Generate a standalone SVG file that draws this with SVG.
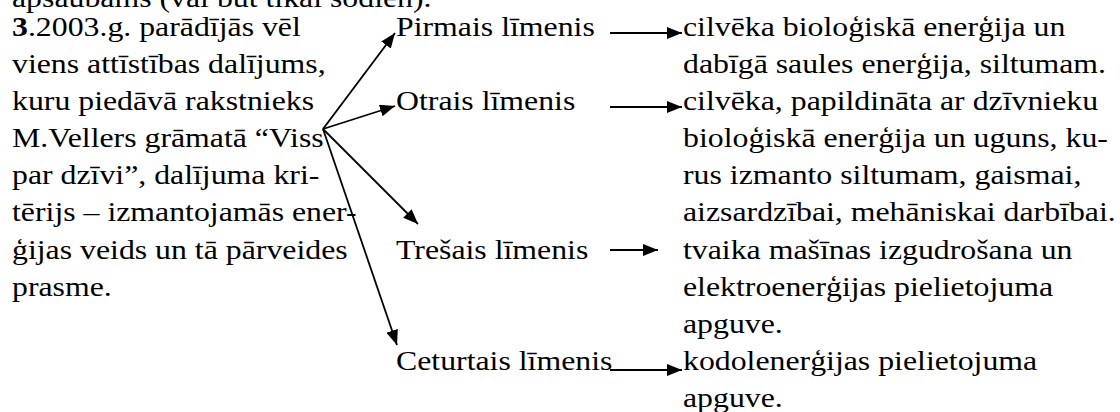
<svg xmlns="http://www.w3.org/2000/svg" width="1120" height="412" viewBox="0 0 1120 412">
  <style>
    text { font-family: "Liberation Serif", "Times New Roman", serif; font-size: 27px; fill: #000; }
    .wire { stroke: #000; stroke-width: 1.8; fill: none; marker-end: url(#head); }
  </style>
  <defs>
    <marker id="head" viewBox="0 0 15 12" markerWidth="15" markerHeight="12" markerUnits="userSpaceOnUse" refX="15" refY="6" orient="auto">
      <path d="M0,0 L15,6 L0,12 z" fill="#000"/>
    </marker>
  </defs>
  <rect width="1120" height="412" fill="#fff"/>

  <!-- tail of the preceding paragraph -->
  <g id="prev-line" transform="translate(12 0) scale(1.178 1)">
    <text x="0" y="7">apšaubāms (vai būt tikai šodien).</text>
  </g>

  <!-- source paragraph -->
  <g id="source" transform="translate(12 0) scale(1.178 1)">
    <text x="0" y="36"><tspan font-weight="bold">3</tspan>.2003.g. parādījās vēl</text>
    <text x="0" y="73.1">viens attīstības dalījums,</text>
    <text x="0" y="110.2">kuru piedāvā rakstnieks</text>
    <text x="0" y="147.3">M.Vellers grāmatā “Viss</text>
    <text x="0" y="184.4">par dzīvi”, dalījuma kri-</text>
    <text x="0" y="221.5">tērijs – izmantojamās ener-</text>
    <text x="0" y="258.6">ģijas veids un tā pārveides</text>
    <text x="0" y="295.7">prasme.</text>
  </g>

  <!-- levels -->
  <g id="level-1" transform="translate(396 0) scale(1.178 1)">
    <text x="0" y="36">Pirmais līmenis</text>
  </g>
  <g id="level-2" transform="translate(396 0) scale(1.178 1)">
    <text x="0" y="110.2">Otrais līmenis</text>
  </g>
  <g id="level-3" transform="translate(396 0) scale(1.178 1)">
    <text x="0" y="258.6">Trešais līmenis</text>
  </g>
  <g id="level-4" transform="translate(396 0) scale(1.178 1)">
    <text x="0" y="369.9">Ceturtais līmenis</text>
  </g>

  <!-- descriptions -->
  <g id="desc-1" transform="translate(683 0) scale(1.178 1)">
    <text x="0" y="36">cilvēka bioloģiskā enerģija un</text>
    <text x="0" y="73.1">dabīgā saules enerģija, siltumam.</text>
  </g>
  <g id="desc-2" transform="translate(683 0) scale(1.178 1)">
    <text x="0" y="110.2">cilvēka, papildināta ar dzīvnieku</text>
    <text x="0" y="147.3">bioloģiskā enerģija un uguns, ku-</text>
    <text x="0" y="184.4">rus izmanto siltumam, gaismai,</text>
    <text x="0" y="221.5">aizsardzībai, mehāniskai darbībai.</text>
  </g>
  <g id="desc-3" transform="translate(683 0) scale(1.178 1)">
    <text x="0" y="258.6">tvaika mašīnas izgudrošana un</text>
    <text x="0" y="295.7">elektroenerģijas pielietojuma</text>
    <text x="0" y="332.8">apguve.</text>
  </g>
  <g id="desc-4" transform="translate(683 0) scale(1.178 1)">
    <text x="0" y="369.9">kodolenerģijas pielietojuma</text>
    <text x="0" y="407">apguve.</text>
  </g>

  <!-- connectors -->
  <g id="connectors">
    <line class="wire" x1="323" y1="129" x2="395" y2="33"/>
    <line class="wire" x1="323" y1="129" x2="395" y2="106"/>
    <line class="wire" x1="323" y1="129" x2="418" y2="224"/>
    <line class="wire" x1="323" y1="129" x2="397" y2="345"/>
    <line class="wire" x1="610" y1="33" x2="682" y2="33"/>
    <line class="wire" x1="610" y1="107" x2="682" y2="107"/>
    <line class="wire" x1="610" y1="250" x2="658" y2="250"/>
    <line class="wire" x1="610" y1="370" x2="682" y2="370"/>
  </g>
</svg>
